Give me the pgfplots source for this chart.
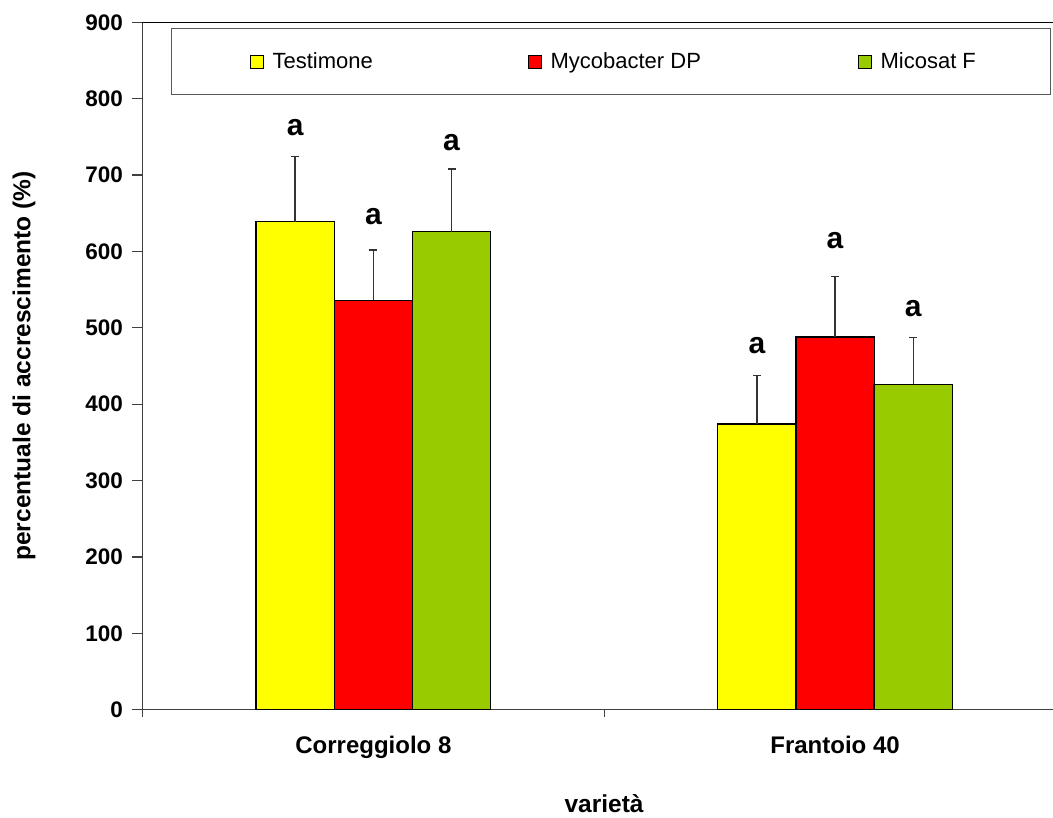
\documentclass[border=0pt]{standalone}
\usepackage{fontspec}
\setmainfont{Liberation Sans}
\usepackage{pgfplots}
\pgfplotsset{compat=1.18}
\definecolor{cyellow}{HTML}{FFFF00}
\definecolor{cred}{HTML}{FF0000}
\definecolor{cgreen}{HTML}{99CC00}
\definecolor{axgray}{HTML}{404040}
\definecolor{errgray}{HTML}{333333}
\begin{document}
\begin{tikzpicture}
\begin{axis}[name=ax, scale only axis, width=910.5pt, height=687.4pt,
  xmin=-0.5, xmax=1.472, ymin=0, ymax=900,
  axis x line*=bottom, axis y line*=left,
  axis line style={draw=axgray, line width=1.3pt},
  ytick={0,100,...,900}, tick align=outside, major tick length=10pt,
  minor tick length=7pt,
  y tick style={draw=axgray, line width=1.3pt},
  xtick={0,1}, xticklabels={Correggiolo 8,Frantoio 40},
  minor xtick={-0.5,0.5,1.5},
  major x tick style={draw=none},
  minor x tick style={draw=axgray, line width=1.3pt},
  ybar, bar width=78.3pt,
  /pgf/number format/assume math mode=true,
  yticklabel style={font=\fontsize{22.5}{27}\selectfont\bfseries, xshift=-6pt},
  xticklabel style={font=\fontsize{24}{28}\selectfont\bfseries, yshift=-13pt},
  ylabel={percentuale di accrescimento (\%)},
  xlabel={varietà},
  every axis y label/.style={at={(axis description cs:-0.130,0.5)}, rotate=90, anchor=center,
    font=\fontsize{24.5}{29}\selectfont\bfseries},
  every axis x label/.style={at={(axis description cs:0.507,-0.1503)}, anchor=base,
    font=\fontsize{24.5}{29}\selectfont\bfseries},
  legend columns=3,
  legend style={at={(axis description cs:0.0313,0.9913)}, anchor=north west,
    draw=black!65, line width=1.2pt, inner xsep=78pt, inner ysep=24pt,
    font=\fontsize{22}{26}\selectfont,
    nodes={inner sep=0pt},
    /tikz/every odd column/.style={column sep=9pt},
    /tikz/every even column/.style={column sep=0pt}},
  clip=false,
]
\addplot[fill=cyellow, draw=black, line width=1.3pt, bar shift=0pt,
  legend image code/.code={\draw[fill=cyellow, draw=black, line width=1pt] (0pt,-6.5pt) rectangle (13pt,6.5pt);},
  error bars/.cd, y dir=plus, y explicit, error mark=-,
  error bar style={draw=errgray, line width=1.3pt},
  error mark options={rotate=90, draw=errgray, line width=1.3pt, mark size=4pt}]
  coordinates {(-0.1694,639) +- (0,85) (0.8306,374) +- (0,64)};
\addplot[fill=cred, draw=black, line width=1.3pt, bar shift=0pt,
  legend image code/.code={\draw[fill=cred, draw=black, line width=1pt] (0pt,-6.5pt) rectangle (13pt,6.5pt);},
  error bars/.cd, y dir=plus, y explicit, error mark=-,
  error bar style={draw=errgray, line width=1.3pt},
  error mark options={rotate=90, draw=errgray, line width=1.3pt, mark size=4pt}]
  coordinates {(0,536) +- (0,66) (1,488) +- (0,79)};
\addplot[fill=cgreen, draw=black, line width=1.3pt, bar shift=0pt,
  legend image code/.code={\draw[fill=cgreen, draw=black, line width=1pt] (0pt,-6.5pt) rectangle (13pt,6.5pt);},
  error bars/.cd, y dir=plus, y explicit, error mark=-,
  error bar style={draw=errgray, line width=1.3pt},
  error mark options={rotate=90, draw=errgray, line width=1.3pt, mark size=4pt}]
  coordinates {(0.1694,626) +- (0,82) (1.1694,426) +- (0,61)};
\legend{\makebox[255pt][l]{Testimone},\makebox[307pt][l]{Mycobacter DP},\makebox[92pt][l]{Micosat F}}
\draw[black, line width=1.3pt] (rel axis cs:0,1) -- (rel axis cs:1,1);
\begin{scope}[every node/.style={font=\fontsize{30}{36}\selectfont\bfseries, anchor=center}]
\node at (axis cs:-0.1694,761.6) {a};
\node at (axis cs:0,645.1) {a};
\node at (axis cs:0.1694,742.0) {a};
\node at (axis cs:0.8306,476.2) {a};
\node at (axis cs:1,613.6) {a};
\node at (axis cs:1.1694,524.6) {a};
\end{scope}
\end{axis}
\pgfresetboundingbox
\path ([xshift=-142.5pt,yshift=-108.3pt]ax.south west) rectangle ([yshift=22.3pt]ax.north east);
\end{tikzpicture}
\end{document}
